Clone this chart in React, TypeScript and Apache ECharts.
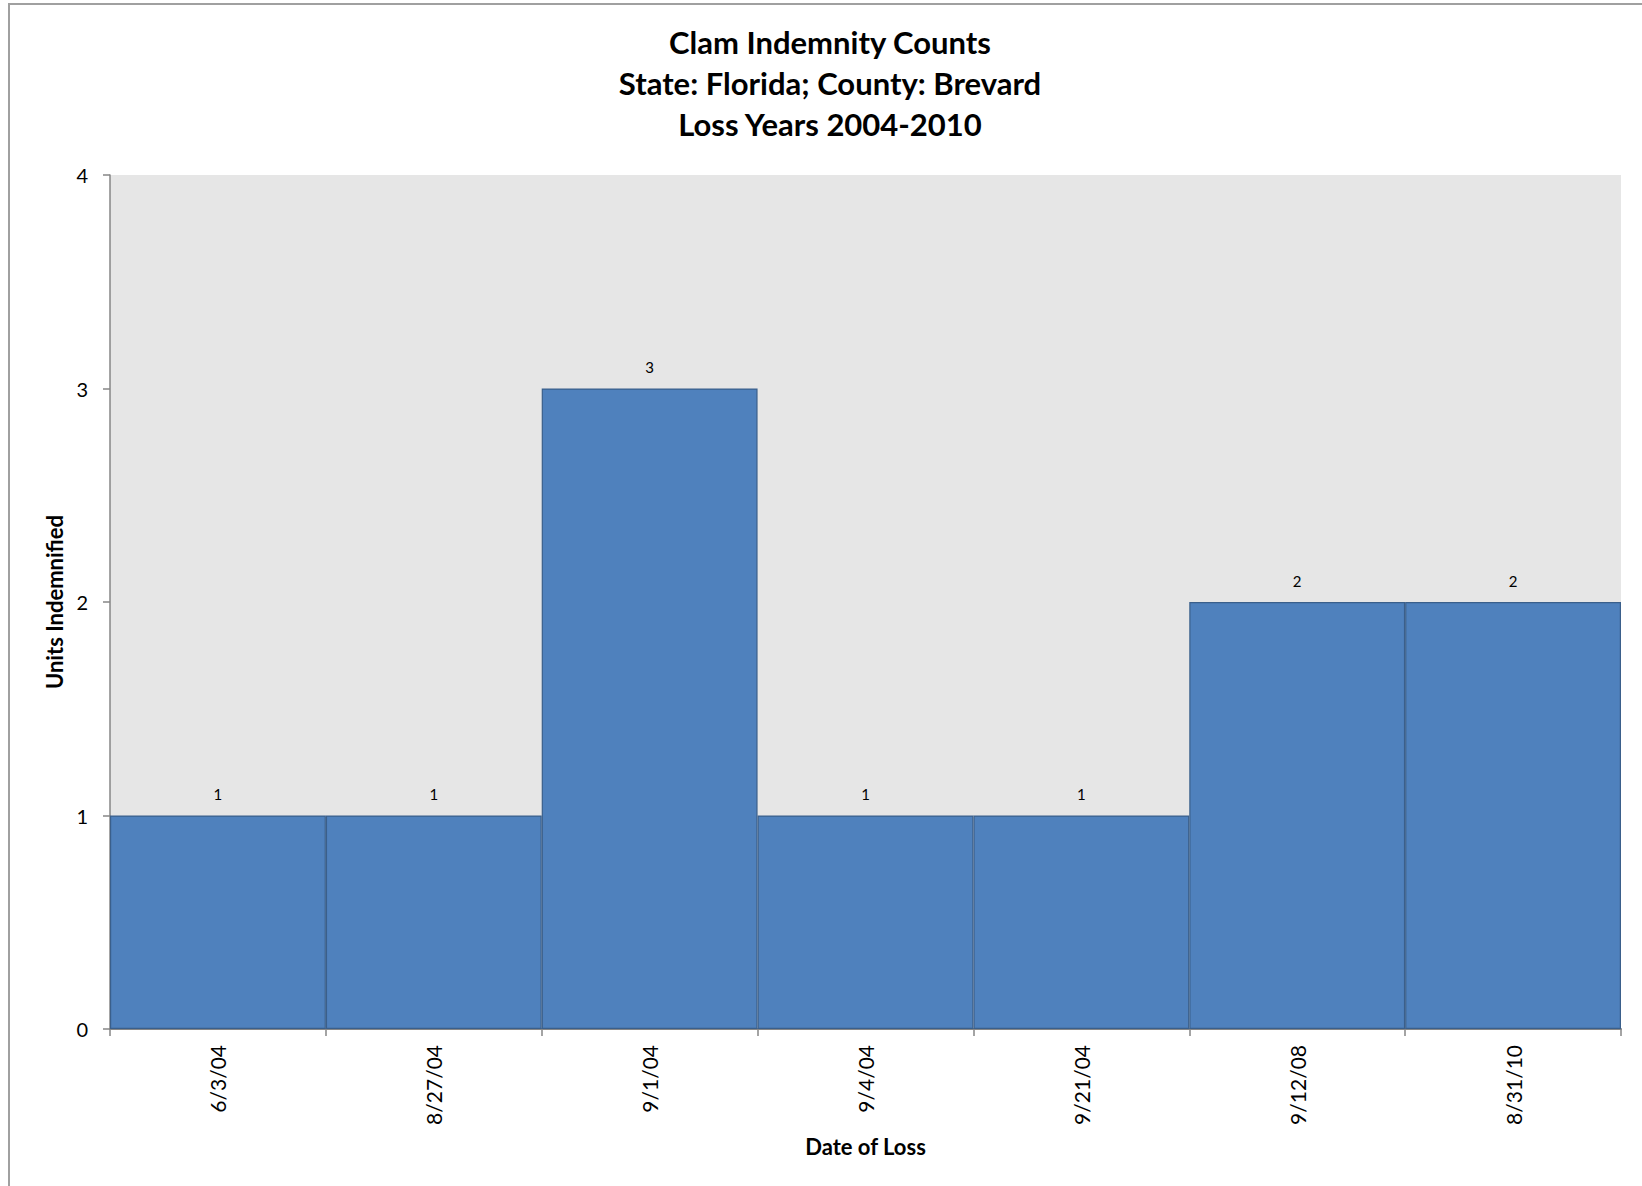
import React, { useEffect, useRef } from "react";
import * as echarts from "echarts";

const titleLines = ["Clam Indemnity Counts", "State: Florida; County: Brevard", "Loss Years 2004-2010"];
const categories = ["6/3/04", "8/27/04", "9/1/04", "9/4/04", "9/21/04", "9/12/08", "8/31/10"];
const unitsIndemnified = [1, 1, 3, 1, 1, 2, 2];
const yTicks = { min: 0, max: 4, interval: 1 };

const FONT = "Lato, 'Open Sans', sans-serif";

export default function App() {
  const ref = useRef<HTMLDivElement>(null);
  useEffect(() => {
    if (!ref.current) return;
    const chart = echarts.init(ref.current, null, { renderer: "svg" });
    chart.setOption({
      animation: false,
      backgroundColor: "#ffffff",
      textStyle: { fontFamily: FONT },
      title: {
        text: titleLines.join("\n"),
        left: 825,
        top: 16,
        textAlign: "center",
        textStyle: { fontFamily: FONT, fontWeight: "bold", fontSize: 31, lineHeight: 41, color: "#000" },
      },
      graphic: [
        {
          type: "rect",
          shape: { x: 9, y: 4, width: 1700, height: 1300 },
          style: { fill: "none", stroke: "#a0a0a0", lineWidth: 2 },
          silent: true,
          z: -1,
        },
      ],
      grid: {
        left: 110,
        right: 21,
        top: 175,
        bottom: 157,
        show: true,
        backgroundColor: "#e6e6e6",
        borderWidth: 0,
      },
      xAxis: {
        type: "category",
        data: categories,
        name: "Date of Loss",
        nameLocation: "middle",
        nameGap: 106,
        nameTextStyle: { fontFamily: FONT, fontWeight: "bold", fontSize: 22, color: "#000" },
        axisLine: { lineStyle: { color: "#868686", width: 2 } },
        axisTick: { show: true, length: 7, lineStyle: { color: "#868686", width: 1.5 } },
        axisLabel: { rotate: 90, margin: 16, fontSize: 21, color: "#000", fontFamily: FONT },
        splitLine: { show: false },
      },
      yAxis: {
        type: "value",
        min: yTicks.min,
        max: yTicks.max,
        interval: yTicks.interval,
        name: "Units Indemnified",
        nameLocation: "middle",
        nameGap: 45,
        nameTextStyle: { fontFamily: FONT, fontWeight: "bold", fontSize: 22, color: "#000" },
        axisLine: { show: true, lineStyle: { color: "#868686", width: 1.5 } },
        axisTick: { show: true, length: 7, lineStyle: { color: "#868686", width: 1.5 } },
        axisLabel: { margin: 22, fontSize: 20, color: "#000", fontFamily: FONT },
        splitLine: { show: false },
      },
      series: [
        {
          type: "bar",
          data: unitsIndemnified,
          barCategoryGap: "0%",
          itemStyle: { color: "#4f81bd", borderColor: "#3a5f8b", borderWidth: 1.2 },
          label: {
            show: true,
            position: "top",
            distance: 14,
            fontSize: 15,
            color: "#000",
            fontFamily: FONT,
          },
        },
      ],
    });
    return () => chart.dispose();
  }, []);
  return (
    <div
      ref={ref}
      style={{ position: "absolute", left: 0, top: 0, width: 1642, height: 1186 }}
    />
  );
}
